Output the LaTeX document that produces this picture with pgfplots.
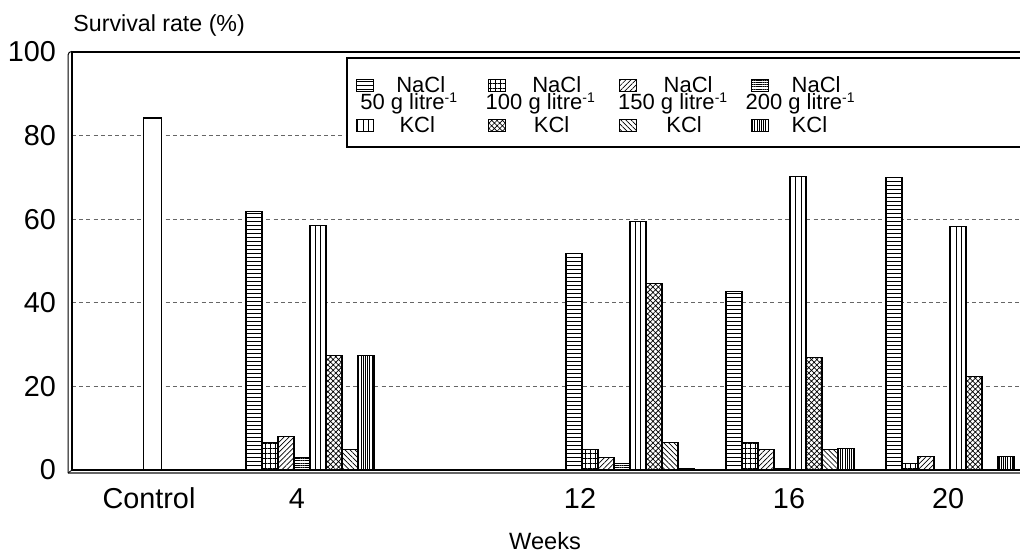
\documentclass[border=0pt]{standalone}
\usepackage{fontspec}
\setmainfont{Liberation Sans}
\usepackage{pgfplots}
\pgfplotsset{compat=1.18}
\usetikzlibrary{patterns.meta}

\newcommand{\supm}{\raisebox{3.7pt}{\fontsize{7}{7}\selectfont -1}}
% legend text cells: #1 shift of concentration line, #2 shift of NaCl, #3 number, #4 cell width
\newcommand{\nacl}[4]{\makebox[#4][l]{\rlap{\raisebox{-8.8pt}[0pt][0pt]{\hspace*{#1}#3 g litre\supm}}\hspace*{#2}NaCl}}
\newcommand{\kcl}[2]{\makebox[#2][l]{\hspace*{#1}KCl}}

\pgfplotsset{
  barbase/.style={draw=black, fill=white, line width=0.55pt},
}

\begin{document}
\begin{tikzpicture}
\begin{axis}[
  at={(0pt,0pt)}, anchor=south west,
  scale only axis, width=485pt, height=209pt,
  xmin=-0.35, xmax=23.9, ymin=0, ymax=100,
  ybar, bar width=8pt,
  axis line style={black, line width=0.6pt},
  ytick={0,20,40,60,80,100},
  xtick={1.575,5.275,12.35,17.575,21.55},
  xticklabels={Control,4,12,16,20},
  major tick length=0pt,
  ymajorgrids,
  grid style={densely dashed, dash pattern=on 2pt off 1.6pt, black!60, line width=0.4pt},
  /pgf/number format/assume math mode=true,
  tick label style={font=\fontsize{14.4}{17}\selectfont},
  yticklabel style={xshift=-4.5pt},
  xticklabel style={anchor=base, yshift=-19pt},
  legend style={
    at={(rel axis cs:0.2856,0.9768)}, anchor=north west,
    draw=none, fill=none,
    font=\fontsize{11}{12}\selectfont,
    inner xsep=3.5pt, inner ysep=7pt,
    row sep=10.6pt, column sep=0pt,
    nodes={inner sep=0pt},
  },
  legend columns=4,
  legend cell align=left,
  legend image code/.code={\draw[#1,line width=0.45pt] (0pt,-3pt) rectangle (8.5pt,3pt);},
]
% NaCl 50 g/l
\addplot[barbase, bar shift=4pt, postaction={pattern={Lines[angle=0,distance=2pt,line width=0.35pt]}}]
  coordinates {(4,61.8) (12,51.8) (16,42.8) (20,70.0)};
\addlegendentry{\nacl{-7pt}{11pt}{50}{56.75pt}}
% NaCl 100 g/l
\addplot[barbase, bar shift=12pt, postaction={pattern={Hatch[angle=0,distance=2.5pt,line width=0.35pt]}}]
  coordinates {(4,6.6) (12,5.0) (16,6.5) (20,1.6)};
\addlegendentry{\nacl{-10pt}{13.3pt}{100}{56.75pt}}
% NaCl 150 g/l
\addplot[barbase, bar shift=20pt, postaction={pattern={Lines[angle=45,distance=1.8pt,line width=0.35pt]}}]
  coordinates {(4,8.0) (12,3.0) (16,4.8) (20,3.3)};
\addlegendentry{\nacl{-9.5pt}{13.3pt}{150}{56.75pt}}
% NaCl 200 g/l
\addplot[barbase, bar shift=28pt, postaction={pattern={Lines[angle=0,distance=1.1pt,line width=0.3pt]}}]
  coordinates {(4,3.0) (12,1.6) (16,0.3) (20,0.2)};
\addlegendentry{\nacl{-11.5pt}{11.6pt}{200}{140pt}}
% KCl 50 g/l
\addplot[barbase, bar shift=36pt, postaction={pattern={Lines[angle=90,distance=2.67pt,line width=0.35pt]}}]
  coordinates {(4,58.4) (12,59.4) (16,70.2) (20,58.2)};
\addlegendentry{\kcl{12.6pt}{56.75pt}}
% KCl 100 g/l
\addplot[barbase, bar shift=44pt, postaction={pattern={Hatch[angle=45,distance=1.9pt,line width=0.35pt]}}]
  coordinates {(4,27.3) (12,44.7) (16,27.0) (20,22.3)};
\addlegendentry{\kcl{14.1pt}{56.75pt}}
% KCl 150 g/l
\addplot[barbase, bar shift=52pt, postaction={pattern={Lines[angle=-45,distance=1.8pt,line width=0.35pt]}}]
  coordinates {(4,5.0) (12,6.5) (16,4.8) (20,0.2)};
\addlegendentry{\kcl{14.6pt}{56.75pt}}
% KCl 200 g/l
\addplot[barbase, bar shift=60pt, postaction={pattern={Lines[angle=90,distance=1.1pt,line width=0.3pt]}}]
  coordinates {(4,27.3) (12,0.3) (16,5.2) (20,3.3)};
\addlegendentry{\kcl{11.6pt}{140pt}}
% Control
\addplot[barbase, bar shift=0pt, bar width=9pt, forget plot]
  coordinates {(1.6625,84.2)};
% legend frame
\draw[black, line width=0.6pt, fill=white] (rel axis cs:0.2835,0.9857) rectangle (rel axis cs:1.05,0.7727);
\end{axis}
% pseudo-3D wall and floor
\draw[black, line width=0.5pt] (-2pt,-1.5pt) -- (-2pt,207.5pt) to[out=90,in=180] (0pt,209.3pt);
\draw[black!60, line width=0.9pt] (-2pt,-1.6pt) -- (480pt,-1.6pt);
\draw[black, line width=0.4pt] (-2pt,-1.5pt) -- (0pt,0pt);
\node[anchor=base west, inner sep=0pt, font=\fontsize{11.6}{14}\selectfont] at (0.5pt,219pt) {Survival rate (\%)};
\node[anchor=base, inner sep=0pt, font=\fontsize{11.8}{14}\selectfont] at (236.5pt,-39.5pt) {Weeks};
\pgfresetboundingbox
\path (-36pt,-41.5pt) rectangle (474pt,235pt);
\end{tikzpicture}
\end{document}
